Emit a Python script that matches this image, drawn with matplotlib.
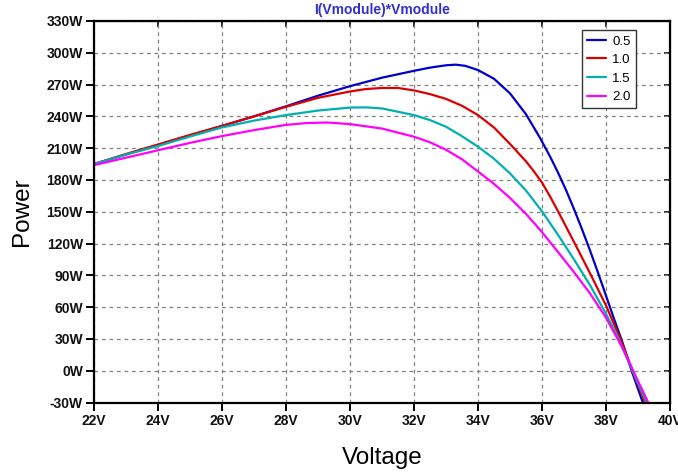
import matplotlib
matplotlib.use("Agg")
import matplotlib.pyplot as plt
from matplotlib.ticker import FuncFormatter

plt.rcParams['font.family'] = ['Liberation Sans', 'DejaVu Sans']

title = "I(Vmodule)*Vmodule"
x_label = "Voltage"
y_label = "Power"
series_labels = ["0.5", "1.0", "1.5", "2.0"]
series_colors = ["#0000cc", "#dd0000", "#00b0b0", "#ff00ff"]

v_05 = [22, 23, 24, 25, 26, 27, 28, 29, 30, 31, 32, 32.5, 33, 33.3, 33.6, 34, 34.5, 35, 35.5,
        35.94, 36.25, 36.5, 36.75, 37, 37.25, 37.5, 37.75, 38, 38.25, 38.5, 38.8, 39.15]
p_05 = [195, 204, 213, 222, 231, 240, 249.5, 259.5, 268.5, 276.5, 283, 286, 288.2, 288.8, 287.7,
        283.7, 275.5, 261.7, 242, 219.6, 202.2, 187, 170.5, 152.5, 133.5, 113.5, 92.5, 70.8,
        49, 28, 0, -30]

v_10 = [22, 23, 24, 25, 26, 27, 28, 29, 30, 30.5, 31, 31.5, 32, 32.5, 33, 33.5, 34, 34.5, 35,
        35.5, 35.75, 36, 36.25, 36.5, 36.75, 37, 37.5, 38, 38.45, 38.8, 39.22]
p_10 = [195, 204.5, 213.5, 222.5, 231, 240, 249, 257.5, 263.5, 265.8, 266.8, 266.8, 264.5, 261,
        256.5, 250, 241.2, 229.5, 214, 197.5, 188, 177.5, 164.5, 150.5, 136, 121.5, 92, 61.5,
        30, 2.5, -30]

v_15 = [22, 23, 24, 25, 26, 27, 28, 29, 30, 30.5, 31, 32, 32.5, 33, 33.44, 34, 34.5, 35, 35.5,
        36, 36.5, 37, 37.5, 38, 38.4, 38.8, 39.27]
p_15 = [195, 204, 212, 221, 229.6, 236, 241.2, 245.5, 248.3, 248.5, 247.5, 241.2, 236.5, 230.2,
        222.4, 211.4, 200, 186.2, 170, 150.4, 128.2, 105, 80.7, 53.7, 29.7, 1.7, -30]

v_20 = [22, 23, 24, 25, 26, 27, 28, 28.7, 29.3, 30, 31, 32, 32.5, 33, 33.5, 34, 34.5, 35, 35.5,
        36, 36.5, 37, 37.5, 38, 38.5, 38.8, 39.32]
p_20 = [194, 201, 208, 215, 221.4, 227, 232, 233.8, 234.2, 232.7, 228.5, 220.8, 215.5, 208.5,
        199.5, 188, 176.3, 163, 148, 130.8, 112, 93, 73, 50, 22.5, 3, -30]

x_ticks = [22, 24, 26, 28, 30, 32, 34, 36, 38, 40]
y_ticks = [-30, 0, 30, 60, 90, 120, 150, 180, 210, 240, 270, 300, 330]

fig = plt.figure(figsize=(6.78, 4.73), dpi=100)
ax = fig.add_axes([94 / 678, 1 - 402.5 / 473, (670 - 94) / 678, (402.5 - 21) / 473])

for v, p, lab, col in zip([v_05, v_10, v_15, v_20], [p_05, p_10, p_15, p_20],
                          series_labels, series_colors):
    ax.plot(v, p, color=col, lw=1.6, label=lab, solid_joinstyle='round',
            solid_capstyle='round')

ax.set_xlim(22, 40)
ax.set_ylim(-30, 330)
ax.set_xticks(x_ticks)
ax.set_yticks(y_ticks)
ax.xaxis.set_major_formatter(FuncFormatter(lambda v, _: f"{int(v)}V"))
ax.yaxis.set_major_formatter(FuncFormatter(lambda v, _: f"{int(v)}W"))
ax.grid(True, color="#808080", linestyle=(0, (3, 3)), linewidth=0.9)
ax.set_axisbelow(True)

for s in ax.spines.values():
    s.set_linewidth(1.6)
    s.set_color("black")

ax.tick_params(axis='both', direction='out', length=6, width=1.4, labelsize=10, pad=2)
for lab in ax.get_xticklabels() + ax.get_yticklabels():
    lab.set_fontweight('bold')
    lab.set_color('#111111')

sec_x = ax.secondary_xaxis('top')
sec_x.set_xticks(x_ticks)
sec_x.tick_params(direction='in', length=4, width=1.2, labeltop=False)
sec_y = ax.secondary_yaxis('right')
sec_y.set_yticks(y_ticks)
sec_y.tick_params(direction='in', length=4, width=1.2, labelright=False)

ax.set_xlabel(x_label, fontsize=17.5, labelpad=14)
ax.set_ylabel(y_label, fontsize=17.5, labelpad=10)
fig.text(382 / 678, 1 - 10 / 473, title, ha='center', va='center', fontsize=10,
         fontweight='bold', color='#3030cc')

leg = ax.legend(loc='upper left', bbox_to_anchor=(582 / 678, 1 - 30 / 473),
                bbox_transform=fig.transFigure, fontsize=9.5, frameon=True,
                fancybox=False, edgecolor='#333333', framealpha=1,
                handlelength=1.4, handletextpad=0.5, labelspacing=0.48,
                borderpad=0.4, borderaxespad=0)
leg.get_frame().set_linewidth(1.0)

fig.savefig("out.png", dpi=100, facecolor='white')
